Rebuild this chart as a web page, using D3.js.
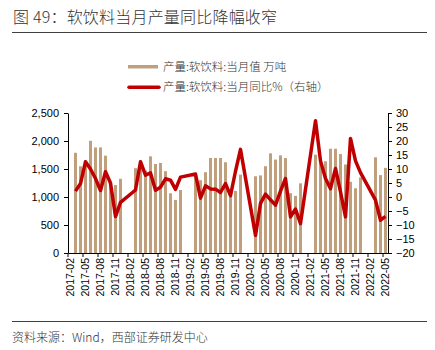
<!DOCTYPE html>
<html>
<head>
<meta charset="utf-8">
<script src="https://cdn.jsdelivr.net/npm/d3@7"></script>
<style>
    body { margin: 0; background: #fff; }
    .tick text { font-family: "Liberation Sans", Arial, sans-serif; fill: #000; }
    .cjk { font-family: "Noto Sans CJK SC", sans-serif; fill: #333; }
</style>
</head>
<body>
<div id="chart"></div>
<script>
// months on the category axis (Jan/Feb figures are not published)
const months = [
    '2017-02','2017-03','2017-04','2017-05','2017-06','2017-07','2017-08','2017-09','2017-10','2017-11','2017-12',
    '2018-01','2018-02','2018-03','2018-04','2018-05','2018-06','2018-07','2018-08','2018-09','2018-10','2018-11','2018-12',
    '2019-01','2019-02','2019-03','2019-04','2019-05','2019-06','2019-07','2019-08','2019-09','2019-10','2019-11','2019-12',
    '2020-01','2020-02','2020-03','2020-04','2020-05','2020-06','2020-07','2020-08','2020-09','2020-10','2020-11','2020-12',
    '2021-01','2021-02','2021-03','2021-04','2021-05','2021-06','2021-07','2021-08','2021-09','2021-10','2021-11','2021-12',
    '2022-01','2022-02','2022-03','2022-04','2022-05'
];

// 产量:软饮料:当月值 (万吨)
const output = [
    null, 1790, 1549, 1608, 2003, 1885, 1885, 1738, 1250, 1213, 1325,
    null, null, 1514, 1600, 1473, 1726, 1590, 1608, 1461, 1066, 948, 1125,
    null, null, 1420, 1300, 1443, 1696, 1696, 1696, 1620, 1040, 1108, 1400,
    null, null, 1370, 1385, 1550, 1779, 1668, 1744, 1696, 1067, 1020, 1244,
    null, null, 1756, 1620, 1638, 1862, 1862, 1767, 1580, 1272, 1156, 1350,
    null, null, 1709, 1391, 1520
];

// 产量:软饮料:当月同比 (%)
const yoy = [
    null, 2.1, 4.8, 12.6, 10.0, 6.6, 2.3, 9.0, 5.0, -7.0, -1.9,
    null, null, 2.5, 12.6, 7.8, 8.6, 2.4, 3.5, 6.5, 6.0, 2.7, 7.1,
    null, null, 8.2, -0.4, 4.0, 2.9, 2.8, 1.6, 4.8, 0.5, 9.2, 17.0,
    null, null, -13.7, -2.3, 1.0, -1.0, -2.9, 2.1, 6.6, -7.1, -4.3, -9.5,
    null, null, 27.2, 12.9, 6.6, 3.0, 10.2, 1.8, -7.1, 20.9, 12.9, 8.7,
    null, null, -1.1, -8.3, -6.9
];

const leftTicks = [0, 500, 1000, 1500, 2000, 2500];
const rightTicks = [-20, -15, -10, -5, 0, 5, 10, 15, 20, 25, 30];

const title = '图 49：软饮料当月产量同比降幅收窄';
const legendBar = '产量:软饮料:当月值 万吨';
const legendLine = '产量:软饮料:当月同比%（右轴）';
const source = '资料来源：Wind，西部证券研发中心';

const barColor = '#bf9f7c';
const lineColor = '#c00000';

const width = 435, height = 350;
const plot = {left: 68, right: 388, top: 113, bottom: 253};

const data = months.map((m, i) => ({month: m, value: output[i], yoy: yoy[i]}));

const svg = d3.select('#chart')
    .append('svg')
    .attr('width', width)
    .attr('height', height);

// title and rules
svg.append('text')
    .attr('class', 'cjk')
    .attr('x', 13)
    .attr('y', 23)
    .style('font-size', '16px')
    .style('font-weight', 300)
    .style('letter-spacing', '0.2px')
    .text(title);

svg.append('line')
    .attr('x1', 12).attr('x2', 427)
    .attr('y1', 32.5).attr('y2', 32.5)
    .attr('stroke', '#404040');

svg.append('line')
    .attr('x1', 12).attr('x2', 427)
    .attr('y1', 321.5).attr('y2', 321.5)
    .attr('stroke', '#404040');

svg.append('text')
    .attr('class', 'cjk')
    .attr('x', 12)
    .attr('y', 341.5)
    .style('font-size', '12px')
    .style('font-weight', 300)
    .text(source);

// legend
const legend = svg.append('g');
legend.append('rect')
    .attr('x', 128).attr('y', 65)
    .attr('width', 30).attr('height', 3.5)
    .attr('fill', barColor);
legend.append('text')
    .attr('class', 'cjk')
    .attr('x', 163).attr('y', 66.7)
    .attr('dy', '0.35em')
    .style('font-size', '11.5px')
    .style('font-weight', 300)
    .text(legendBar);
legend.append('line')
    .attr('x1', 129).attr('x2', 159)
    .attr('y1', 87.3).attr('y2', 87.3)
    .attr('stroke', lineColor)
    .attr('stroke-width', 3.5)
    .attr('stroke-linecap', 'round');
legend.append('text')
    .attr('class', 'cjk')
    .attr('x', 163).attr('y', 87.3)
    .attr('dy', '0.35em')
    .style('font-size', '11.5px')
    .style('font-weight', 300)
    .text(legendLine);

// scales
const xScale = d3.scaleBand()
    .domain(months)
    .range([plot.left, plot.right])
    .padding(0);

const yLeft = d3.scaleLinear()
    .domain([0, 2500])
    .range([plot.bottom, plot.top]);

const yRight = d3.scaleLinear()
    .domain([-20, 30])
    .range([plot.bottom, plot.top]);

const bw = xScale.bandwidth();
const barW = 3;

// bars
svg.append('g')
    .selectAll('.bar')
    .data(data.filter(d => d.value != null))
    .join('rect')
    .attr('class', 'bar')
    .attr('x', d => xScale(d.month) + bw / 2 - barW / 2)
    .attr('width', barW)
    .attr('y', d => yLeft(d.value))
    .attr('height', d => yLeft(0) - yLeft(d.value))
    .attr('fill', barColor);

// axes
const xAxis = d3.axisBottom(xScale)
    .tickValues(months.filter((m, i) => i % 3 === 0))
    .tickSize(4)
    .tickSizeOuter(0);

const xAxisG = svg.append('g')
    .attr('transform', `translate(0,${plot.bottom})`)
    .call(xAxis);

// tick marks sit on the band edges, labels on the band centre
xAxisG.selectAll('.tick line')
    .attr('x1', -bw / 2).attr('x2', -bw / 2);
xAxisG.selectAll('.tick text')
    .style('font-size', '10.5px')
    .attr('transform', 'rotate(-90)')
    .attr('text-anchor', 'end')
    .attr('x', -5)
    .attr('y', 0)
    .attr('dy', '0.35em');

const leftAxisG = svg.append('g')
    .attr('transform', `translate(${plot.left},0)`)
    .call(d3.axisLeft(yLeft)
        .tickValues(leftTicks)
        .tickFormat(d3.format(','))
        .tickSize(4)
        .tickSizeOuter(0));
leftAxisG.selectAll('.tick text')
    .style('font-size', '11px')
    .attr('x', -9);

const rightAxisG = svg.append('g')
    .attr('transform', `translate(${plot.right},0)`)
    .call(d3.axisRight(yRight)
        .tickValues(rightTicks)
        .tickSize(4)
        .tickSizeOuter(0));
rightAxisG.selectAll('.tick text')
    .style('font-size', '11px')
    .attr('x', 8);

// yoy line, straight across the missing Jan/Feb months
const line = d3.line()
    .x(d => xScale(d.month) + bw / 2)
    .y(d => yRight(d.yoy));

svg.append('path')
    .datum(data.filter(d => d.yoy != null))
    .attr('fill', 'none')
    .attr('stroke', lineColor)
    .attr('stroke-width', 3.5)
    .attr('stroke-linejoin', 'round')
    .attr('d', line);
</script>
</body>
</html>
